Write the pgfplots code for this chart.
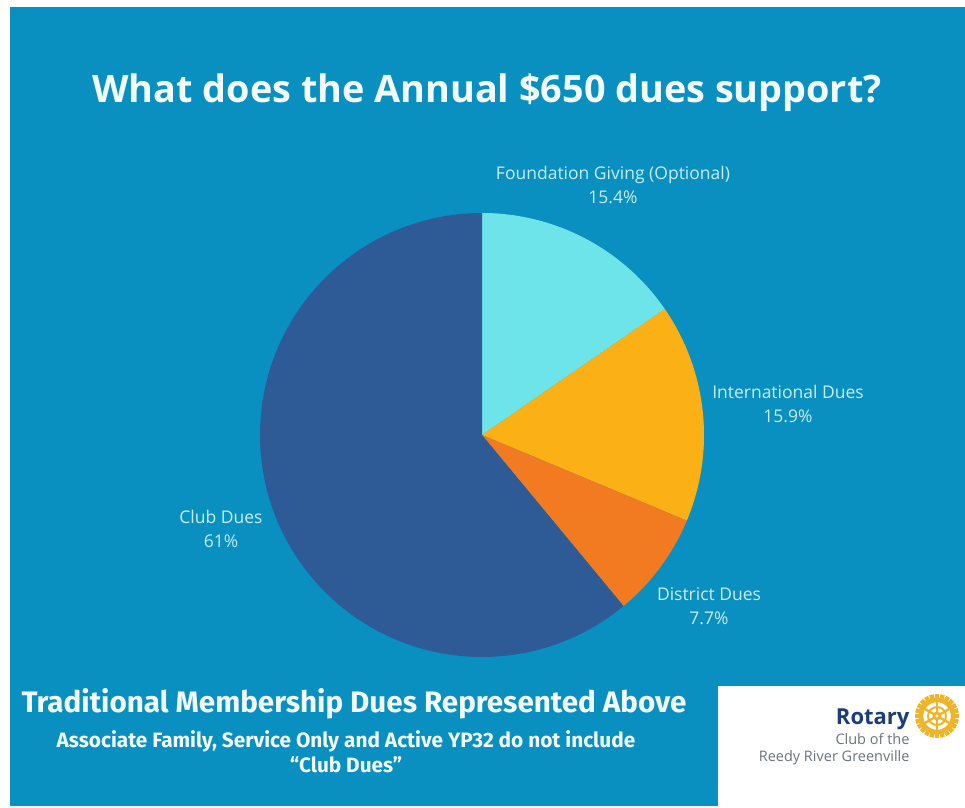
\documentclass[border=0pt]{standalone}
\usepackage{pgfplots}
\pgfplotsset{compat=1.18}
\usepackage{pgfplotstable}
\usepackage{fontspec}
\setmainfont{Open Sans}
\newfontfamily\fira{Fira Sans}
\definecolor{bg}{HTML}{0A8FC1}
\definecolor{sliceA}{HTML}{6DE3EA}
\definecolor{sliceB}{HTML}{FBB116}
\definecolor{sliceC}{HTML}{F27B21}
\definecolor{sliceD}{HTML}{2E5B95}
\definecolor{lbl}{HTML}{C6EDF4}
\definecolor{ttl}{HTML}{F2FCFF}
\definecolor{rotblue}{HTML}{1B3E7A}
\definecolor{rotgray}{HTML}{6C7280}
\definecolor{gold}{HTML}{EFB52A}
\pgfplotstableread{
id label pct
0 Foundation 15.4
1 International 15.9
2 District 7.7
3 Club 61
}\duestable
\begin{document}
\begin{tikzpicture}[x=1pt,y=1pt]
\fill[white] (0,0) rectangle (965,807);
\fill[bg] (10,1) rectangle (965,800);
\xdef\cum{90}
\foreach \i in {0,...,3}{%
  \pgfplotstablegetelem{\i}{pct}\of\duestable
  \pgfmathsetmacro\e{\cum-3.6*\pgfplotsretval}%
  \expandafter\xdef\csname sa\i\endcsname{\cum}%
  \expandafter\xdef\csname ea\i\endcsname{\e}%
  \xdef\cum{\e}%
}
\begin{axis}[x=1pt,y=1pt,xmin=0,xmax=965,ymin=0,ymax=807,hide axis,clip=false,
  anchor=south west,at={(0,0)}]
\fill[sliceA] (axis cs:482,372) -- ++(\csname sa0\endcsname:222) arc[start angle=\csname sa0\endcsname, end angle=\csname ea0\endcsname, radius=222] -- cycle;
\fill[sliceB] (axis cs:482,372) -- ++(\csname sa1\endcsname:222) arc[start angle=\csname sa1\endcsname, end angle=\csname ea1\endcsname, radius=222] -- cycle;
\fill[sliceC] (axis cs:482,372) -- ++(\csname sa2\endcsname:222) arc[start angle=\csname sa2\endcsname, end angle=\csname ea2\endcsname, radius=222] -- cycle;
\fill[sliceD] (axis cs:482,372) -- ++(\csname sa3\endcsname:222) arc[start angle=\csname sa3\endcsname, end angle=\csname ea3\endcsname, radius=222] -- cycle;
% labels
\node[lbl,align=center,font=\fontsize{17.5}{24}\selectfont] at (axis cs:613,622) {Foundation Giving (Optional)\\15.4\%};
\node[lbl,align=center,font=\fontsize{17.5}{24}\selectfont] at (axis cs:788,403) {International Dues\\15.9\%};
\node[lbl,align=center,font=\fontsize{17.5}{24}\selectfont] at (axis cs:709,201) {District Dues\\7.7\%};
\node[lbl,align=center,font=\fontsize{17.5}{24}\selectfont] at (axis cs:221,278) {Club Dues\\61\%};
% title
\node[ttl,font=\fontsize{37.8}{44}\selectfont\bfseries] at (axis cs:487,714) {What does the Annual \$650 dues support?};
% bottom text
\node[ttl,font=\fira\fontsize{29.6}{34}\selectfont\bfseries] at (axis cs:354,103) {Traditional Membership Dues Represented Above};
\node[ttl,align=center,font=\fira\fontsize{20.8}{25}\selectfont\bfseries] at (axis cs:346,55) {Associate Family, Service Only and Active YP32 do not include\\“Club Dues”};
\end{axis}
% logo box
\fill[white] (718,0) rectangle (965,121);
\node[rotblue,anchor=east,font=\fontsize{22}{24}\selectfont\bfseries] at (913,88) {Rotary};
\node[rotgray,anchor=east,align=right,font=\fontsize{14.5}{17}\selectfont] at (913,58) {Club of the\\Reedy River Greenville};
\begin{scope}[shift={(937,91)}]
  \foreach \ang in {0,15,...,345}{\fill[gold,rotate=\ang] (-2.2,17) rectangle (2.2,22);}
  \draw[gold,line width=4.5] (0,0) circle (16);
  \draw[gold,line width=2] (0,0) circle (9);
  \foreach \ang in {0,60,...,300}{\draw[gold,line width=2.4,rotate=\ang] (0,0) -- (0,15);}
  \fill[gold] (0,0) circle (4.5);
  \fill[white] (0,0) circle (1.6);
\end{scope}
\end{tikzpicture}
\end{document}
